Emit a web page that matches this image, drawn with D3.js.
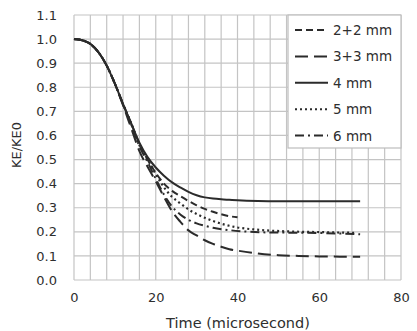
<!DOCTYPE html>
<html>
<head>
<meta charset="utf-8">
<script src="https://cdn.jsdelivr.net/npm/d3@7"></script>
<style>
  body { margin: 0; background: #fff; }
  text { font-family: "DejaVu Sans", sans-serif; fill: #2e2e2e; }
</style>
</head>
<body>
<div class="d3-wrapper"></div>
<script>
// Chart values
const seriesNames = ['2+2 mm', '3+3 mm', '4 mm', '5 mm', '6 mm'];

const t22 = [0, 2, 4, 6, 8, 10, 12, 14, 16, 18, 20, 22, 24, 26, 28, 30, 32, 34, 36, 38, 40];
const v22 = [1.0, 0.995, 0.98, 0.945, 0.89, 0.815, 0.73, 0.65, 0.565, 0.5, 0.445, 0.4, 0.37, 0.348, 0.328, 0.31, 0.295, 0.283, 0.273, 0.265, 0.26];

const t33 = [0, 2, 4, 6, 8, 10, 12, 14, 16, 18, 20, 22, 24, 26, 28, 30, 32, 34, 36, 38, 40, 45, 50, 55, 60, 65, 70];
const v33 = [1.0, 0.995, 0.98, 0.945, 0.89, 0.815, 0.725, 0.63, 0.535, 0.47, 0.41, 0.345, 0.285, 0.242, 0.206, 0.185, 0.165, 0.15, 0.138, 0.128, 0.122, 0.11, 0.103, 0.1, 0.098, 0.097, 0.097];

const t4 = [0, 2, 4, 6, 8, 10, 12, 14, 16, 18, 20, 22, 24, 26, 28, 30, 32, 34, 36, 38, 40, 45, 50, 55, 60, 65, 70];
const v4 = [1.0, 0.995, 0.98, 0.945, 0.89, 0.815, 0.73, 0.65, 0.57, 0.51, 0.467, 0.433, 0.405, 0.384, 0.366, 0.352, 0.343, 0.338, 0.335, 0.333, 0.331, 0.328, 0.327, 0.327, 0.327, 0.327, 0.327];

const t5 = [0, 2, 4, 6, 8, 10, 12, 14, 16, 18, 20, 22, 24, 26, 28, 30, 32, 34, 36, 38, 40, 44, 48, 52, 56, 60, 65, 69];
const v5 = [1.0, 0.995, 0.98, 0.945, 0.89, 0.815, 0.73, 0.65, 0.56, 0.5, 0.44, 0.385, 0.345, 0.318, 0.293, 0.274, 0.258, 0.245, 0.234, 0.225, 0.218, 0.21, 0.205, 0.202, 0.2, 0.199, 0.197, 0.196];

const t6 = [0, 2, 4, 6, 8, 10, 12, 14, 16, 18, 20, 22, 24, 26, 28, 30, 32, 34, 38, 42, 46, 50, 55, 60, 65, 70];
const v6 = [1.0, 0.995, 0.98, 0.945, 0.89, 0.815, 0.73, 0.645, 0.555, 0.49, 0.42, 0.355, 0.305, 0.272, 0.25, 0.235, 0.225, 0.217, 0.207, 0.201, 0.198, 0.197, 0.196, 0.195, 0.193, 0.19];

const xTicks = [0, 20, 40, 60, 80];
const yTicks = [0, 0.1, 0.2, 0.3, 0.4, 0.5, 0.6, 0.7, 0.8, 0.9, 1.0, 1.1];
const xGrid = d3.range(0, 81, 4);

const MARGIN = { top: 15, right: 16, bottom: 51, left: 74 };
const OUTER_WIDTH = 417,
  OUTER_HEIGHT = 331,
  INNER_WIDTH = OUTER_WIDTH - MARGIN.left - MARGIN.right,
  INNER_HEIGHT = OUTER_HEIGHT - MARGIN.top - MARGIN.bottom;

const DASHES = ['7,4', '13,6', null, '2,3', '9,4,2,4'];
const LINE_COLOR = '#2b2b2b';
const GRID_COLOR = '#c4c4c4';

const xScale = d3.scaleLinear().domain([0, 80]).range([0, INNER_WIDTH]);
const yScale = d3.scaleLinear().domain([0, 1.1]).range([INNER_HEIGHT, 0]);

const svg = d3.select('.d3-wrapper').append('svg')
  .attr('width', OUTER_WIDTH)
  .attr('height', OUTER_HEIGHT)
  .append('g')
  .attr('transform', `translate(${MARGIN.left}, ${MARGIN.top})`);

// grid
svg.append('g')
  .selectAll('line')
  .data(xGrid)
  .enter()
  .append('line')
  .attr('x1', d => xScale(d)).attr('x2', d => xScale(d))
  .attr('y1', 0).attr('y2', INNER_HEIGHT)
  .attr('stroke', GRID_COLOR).attr('stroke-width', 1.2);

svg.append('g')
  .selectAll('line')
  .data(yTicks)
  .enter()
  .append('line')
  .attr('x1', 0).attr('x2', INNER_WIDTH)
  .attr('y1', d => yScale(d)).attr('y2', d => yScale(d))
  .attr('stroke', GRID_COLOR).attr('stroke-width', 1.2);

// axes (labels only)
const xAxis = d3.axisBottom(xScale).tickValues(xTicks).tickSize(0).tickPadding(13)
  .tickFormat(d3.format('d'));
const yAxis = d3.axisLeft(yScale).tickValues(yTicks).tickSize(0).tickPadding(17)
  .tickFormat(d3.format('.1f'));

svg.append('g')
  .attr('transform', `translate(0, ${INNER_HEIGHT})`)
  .call(xAxis)
  .call(g => g.select('.domain').remove())
  .selectAll('text')
  .style('font-size', '13px')
  .style('font-family', '"DejaVu Sans", sans-serif')
  .attr('fill', '#2e2e2e');

svg.append('g')
  .call(yAxis)
  .call(g => g.select('.domain').remove())
  .selectAll('text')
  .style('font-size', '13px')
  .style('font-family', '"DejaVu Sans", sans-serif')
  .attr('fill', '#2e2e2e');

// series
const series = [
  { t: t22, v: v22 },
  { t: t33, v: v33 },
  { t: t4, v: v4 },
  { t: t5, v: v5 },
  { t: t6, v: v6 }
];

const line = d3.line()
  .x(d => xScale(d[0]))
  .y(d => yScale(d[1]))
  .curve(d3.curveMonotoneX);

svg.append('g')
  .selectAll('path')
  .data(series)
  .enter()
  .append('path')
  .attr('d', s => line(s.t.map((t, i) => [t, s.v[i]])))
  .attr('fill', 'none')
  .attr('stroke', LINE_COLOR)
  .attr('stroke-width', (s, i) => i === 3 ? 2.2 : 2)
  .attr('stroke-dasharray', (s, i) => DASHES[i]);

// legend
const legend = svg.append('g')
  .attr('transform', `translate(${INNER_WIDTH - 113}, 0)`);

legend.append('rect')
  .attr('x', 0).attr('y', 0)
  .attr('width', 113).attr('height', 133)
  .attr('fill', '#fff')
  .attr('stroke', '#bdbdbd')
  .attr('stroke-width', 1.2);

const item = legend.selectAll('.item')
  .data(seriesNames)
  .enter()
  .append('g')
  .attr('class', 'item')
  .attr('transform', (d, i) => `translate(0, ${15 + i * 26.4})`);

item.append('line')
  .attr('x1', 7).attr('x2', 40)
  .attr('y1', 0).attr('y2', 0)
  .attr('stroke', LINE_COLOR)
  .attr('stroke-width', 2)
  .attr('stroke-dasharray', (d, i) => DASHES[i]);

item.append('text')
  .attr('x', 45)
  .attr('y', 5)
  .style('font-size', '13.5px')
  .text(d => d);

// axis titles
svg.append('text')
  .attr('transform', 'rotate(-90)')
  .attr('text-anchor', 'middle')
  .attr('x', -(145 - MARGIN.top))
  .attr('y', 21 - MARGIN.left)
  .style('font-size', '13px')
  .text('KE/KE0');

svg.append('text')
  .attr('x', 238 - MARGIN.left)
  .attr('y', 328 - MARGIN.top)
  .attr('text-anchor', 'middle')
  .style('font-size', '14.5px')
  .text('Time (microsecond)');
</script>
</body>
</html>
